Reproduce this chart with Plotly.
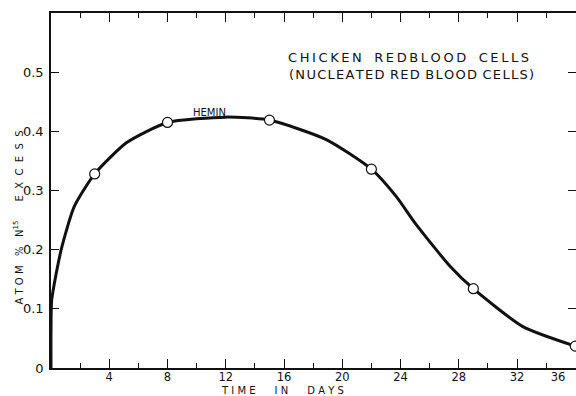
import plotly.graph_objects as go

# Measured samples (days, atom % N15 excess)
days = [3, 8, 15, 22, 29, 36]
excess = [0.328, 0.415, 0.419, 0.336, 0.134, 0.037]

# Hand-drawn fitted curve, read along its path
curve_days = [0, 0, 0.05, 0.7, 1.6, 3, 5.2, 8, 12, 15, 18.9, 22, 23.7, 25, 27.4, 29, 32.4, 36]
curve_excess = [0.0, 0.06, 0.115, 0.2, 0.273, 0.328, 0.381, 0.415, 0.424, 0.419, 0.386,
                0.336, 0.29, 0.245, 0.172, 0.134, 0.07, 0.037]

x_ticks = [4, 8, 12, 16, 20, 24, 28, 32, 36]
# the last label sits against the frame edge, so pad it to the left
x_tick_labels = ["4", "8", "12", "16", "20", "24", "28", "32", "36\u2003\u2003\u2003"]
y_ticks = [0, 0.1, 0.2, 0.3, 0.4, 0.5]
y_tick_labels = ["0", "0.1", "0.2", "0.3", "0.4", "0.5"]

ink = "#111111"
font_family = "DejaVu Sans"
THIN = "\u2009"
HAIR = "\u200a"


def letterspaced(text, sep=THIN, word_gap="  "):
    """Spread the letters of each word apart, like stencil lettering."""
    return word_gap.join(sep.join(word) for word in text.split(" "))


fig = go.Figure()
fig.add_trace(go.Scatter(
    x=curve_days, y=curve_excess, mode="lines",
    line=dict(color=ink, width=3, shape="spline", smoothing=0.6),
    hoverinfo="skip",
))
fig.add_trace(go.Scatter(
    x=days, y=excess, mode="markers",
    marker=dict(symbol="circle", size=10, color="white",
                line=dict(color=ink, width=1.2)),
    cliponaxis=False,
))

fig.update_layout(
    width=576, height=396,
    margin=dict(l=51, r=0, t=13, b=28, autoexpand=False),
    paper_bgcolor="white", plot_bgcolor="white",
    showlegend=False,
    font=dict(family=font_family, color=ink),
    xaxis=dict(
        range=[0, 36.05], tickvals=x_ticks, ticktext=x_tick_labels, ticks="inside",
        ticklen=9, tickwidth=1.3,
        tickcolor=ink, showline=True, linecolor=ink, linewidth=1.5, mirror="ticks",
        showgrid=False, zeroline=False, tickfont=dict(size=11.5, family=font_family),
        ticklabeloverflow="allow", ticklabelstandoff=-3,
        minor=dict(dtick=2, tick0=0, ticks="inside", ticklen=5, tickwidth=1.2, tickcolor=ink),
    ),
    yaxis=dict(
        range=[0, 0.6], tickvals=y_ticks, ticktext=y_tick_labels, ticks="inside",
        ticklen=8, tickwidth=1.3, tickcolor=ink, showline=True, linecolor=ink,
        linewidth=1.5, mirror="ticks", showgrid=False, zeroline=False,
        tickfont=dict(size=13, family=font_family), ticklabelstandoff=3,
    ),
    annotations=[
        dict(text=letterspaced("CHICKEN REDBLOOD CELLS", word_gap="   "),
             x=24.55, y=0.525, xref="x", yref="y", xanchor="center", yanchor="middle",
             showarrow=False, font=dict(size=13, family=font_family, color=ink)),
        dict(text=letterspaced("(NUCLEATED RED BLOOD CELLS)", sep=HAIR, word_gap=" " + HAIR),
             x=24.76, y=0.496, xref="x", yref="y", xanchor="center", yanchor="middle",
             showarrow=False, font=dict(size=13, family=font_family, color=ink)),
        dict(text="HEMIN", x=10.9, y=0.432, xref="x", yref="y", xanchor="center",
             yanchor="middle", showarrow=False,
             font=dict(size=10, family=font_family, color=ink)),
        dict(text="T I M E      I N      D A Y S", x=0.44, y=-0.064, xref="paper",
             yref="paper", xanchor="center", yanchor="middle", showarrow=False,
             font=dict(size=10, family=font_family, color=ink)),
        dict(text="A T O M   %   N<sup>15</sup>      E  X  C  E  S  S", x=-0.061, y=0.424,
             xref="paper", yref="paper", xanchor="center", yanchor="middle",
             textangle=-90, showarrow=False,
             font=dict(size=10, family=font_family, color=ink)),
    ],
)

fig.write_html("out.html")
